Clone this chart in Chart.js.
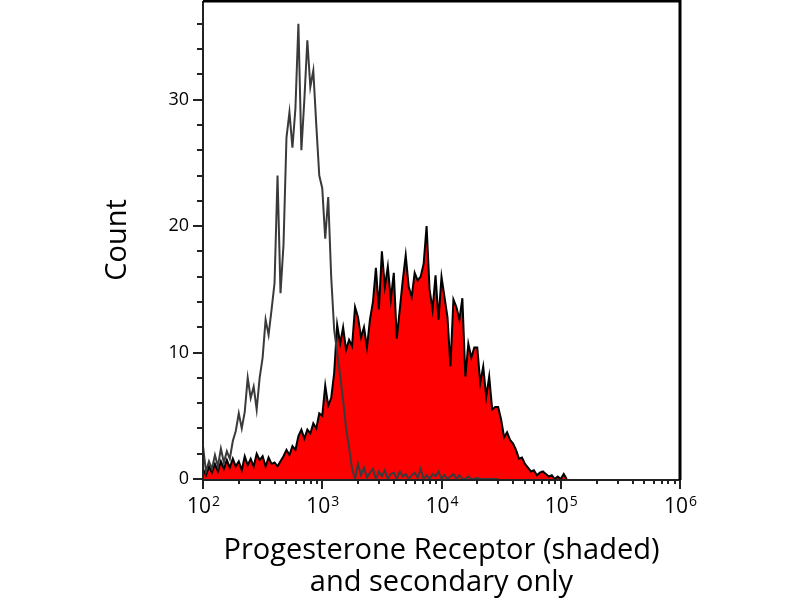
<!DOCTYPE html>
<html>
<head>
<meta charset="utf-8">
<script src="https://cdn.jsdelivr.net/npm/chart.js@4.4.1/dist/chart.umd.min.js"></script>
<style>
  html, body { margin: 0; padding: 0; background: #fff; }
  #grafico { display: block; }
</style>
</head>
<body>
<canvas id="grafico" width="800" height="600"></canvas>
<script>
// canais do histograma: expoente log10 do primeiro canal e largura de cada canal
const primeiroExpoente = 2;
const passoExpoente = 0.025;

// contagens, canal a canal
const contagemSecundario = [
  2.6, 0.6, 1.4, 0.8, 1.9, 1.0, 2.4, 1.3, 2.2, 1.6,
  3.0, 3.8, 5.2, 4.0, 5.3, 8.0, 6.4, 7.3, 5.5, 8.0,
  9.6, 12.6, 11.4, 13.4, 15.5, 24.0, 14.7, 18.5, 27.0, 29.0,
  26.2, 29.3, 36.0, 26.0, 30.0, 34.7, 31.0, 32.3, 28.0, 24.0,
  23.0, 19.0, 22.3, 16.0, 11.8, 10.0, 8.2, 6.2, 4.0, 2.5,
  0.8, 0.0, 1.2, 0.3, 0.9, 0.1, 0.5, 0.8, 0.0, 0.6,
  0.2, 0.7, 0.0, 0.4, 0.5, 0.0, 0.6, 0.2, 0.4, 0.0,
  0.3, 0.5, 0.1, 0.8, 0.0, 0.3, 0.0, 0.4, 0.2, 0.6,
  0.0, 0.3, 0.0, 0.2, 0.4, 0.0, 0.3, 0.0, 0.0, 0.2,
  0.0, 0.0, 0.1, 0.0, 0.0, 0.0, 0.0, 0.0, 0.0, 0.0
];

const contagemReceptor = [
  0.8, 0.3, 1.0, 0.5, 1.2, 0.6, 1.4, 0.8, 1.5, 0.9,
  1.6, 1.0, 1.4, 0.7, 1.8, 1.1, 1.6, 1.0, 2.0, 1.5,
  1.8, 1.0, 1.7, 1.2, 1.3, 1.0, 1.4, 1.8, 2.3, 1.9,
  2.6, 2.3, 3.4, 3.9, 3.2, 3.9, 3.6, 4.4, 4.0, 5.2,
  5.0, 7.4, 5.8, 6.4, 8.4, 12.2, 10.7, 12.0, 10.2, 11.0,
  10.5, 13.6, 12.8, 11.2, 12.0, 10.4, 12.6, 14.0, 16.7, 13.4,
  18.0, 15.2, 16.8, 14.2, 16.3, 11.1, 13.4, 15.7, 17.7, 15.2,
  14.4, 16.3, 15.7, 16.0, 17.0, 20.0, 15.0, 13.4, 16.1, 12.6,
  16.0, 14.4, 12.8, 8.9, 14.2, 13.6, 12.6, 14.3, 8.1, 10.7,
  9.6, 10.4, 10.4, 7.6, 8.9, 6.5, 8.1, 5.5, 5.7, 5.7,
  4.7, 3.3, 3.7, 3.1, 2.8, 2.3, 1.6, 1.7, 1.2, 0.9,
  0.6, 0.7, 0.3, 0.5, 0.6, 0.4, 0.2, 0.3, 0.0, 0.2,
  0.0, 0.4, 0.0
];

const expoentesEixoX = [2, 3, 4, 5, 6];
const ticksEixoY = [0, 10, 20, 30];
const maximoEixoY = 37.8;
const passoMarcaMenorY = 2;
const tituloEixoX = ['Progesterone Receptor (shaded)', 'and secondary only'];
const tituloEixoY = 'Count';

const fonte = '"Open Sans", "DejaVu Sans", sans-serif';

function paraPontos(contagens) {
  return contagens.map((y, i) => ({ x: Math.pow(10, primeiroExpoente + i * passoExpoente), y: y }));
}

const molduraEMarcas = {
  id: 'molduraEMarcas',
  afterDraw(chart) {
    const ctx = chart.ctx;
    const area = chart.chartArea;
    const x = chart.scales.x;
    const y = chart.scales.y;
    ctx.save();

    // marcas do eixo y
    ctx.strokeStyle = '#222';
    ctx.lineWidth = 2;
    for (let v = 0; v <= maximoEixoY; v += passoMarcaMenorY) {
      const py = Math.round(y.getPixelForValue(v));
      const comprimento = ticksEixoY.includes(v) ? 10 : 6;
      ctx.beginPath();
      ctx.moveTo(area.left - comprimento, py);
      ctx.lineTo(area.left, py);
      ctx.stroke();
    }

    // marcas do eixo x (décadas e subdivisões)
    expoentesEixoX.forEach(function(e, idx) {
      const base = Math.pow(10, e);
      const ultimo = idx === expoentesEixoX.length - 1;
      for (let k = 1; k <= (ultimo ? 1 : 9); k++) {
        const px = Math.round(x.getPixelForValue(k * base));
        const comprimento = k === 1 ? 10 : 5;
        ctx.beginPath();
        ctx.moveTo(px, area.bottom);
        ctx.lineTo(px, area.bottom + comprimento);
        ctx.stroke();
      }
    });

    // eixos
    ctx.beginPath();
    ctx.moveTo(area.left, area.top);
    ctx.lineTo(area.left, area.bottom + 1);
    ctx.lineTo(area.right, area.bottom + 1);
    ctx.stroke();

    // moldura superior e direita
    ctx.strokeStyle = '#000';
    ctx.lineWidth = 3;
    ctx.beginPath();
    ctx.moveTo(area.left, area.top);
    ctx.lineTo(area.right, area.top);
    ctx.lineTo(area.right, area.bottom + 1);
    ctx.stroke();

    // rótulos 10^n
    ctx.fillStyle = '#000';
    ctx.textBaseline = 'alphabetic';
    ctx.textAlign = 'left';
    expoentesEixoX.forEach(function(e) {
      const px = x.getPixelForValue(Math.pow(10, e));
      ctx.font = '21px ' + fonte;
      const largBase = ctx.measureText('10').width;
      ctx.font = '14px ' + fonte;
      const largExp = ctx.measureText(String(e)).width;
      const inicio = px - (largBase + largExp) / 2;
      ctx.font = '21px ' + fonte;
      ctx.fillText('10', inicio, area.bottom + 34);
      ctx.font = '14px ' + fonte;
      ctx.fillText(String(e), inicio + largBase + 1, area.bottom + 27);
    });

    ctx.restore();
  }
};

const grafico = new Chart(document.getElementById('grafico').getContext('2d'), {
  type: 'line',
  data: {
    datasets: [{
      label: 'secondary only',
      data: paraPontos(contagemSecundario),
      borderColor: '#3a3a3a',
      borderWidth: 2,
      pointRadius: 0,
      fill: false,
      tension: 0
    }, {
      label: 'Progesterone Receptor',
      data: paraPontos(contagemReceptor),
      borderColor: '#000',
      borderWidth: 2,
      backgroundColor: '#ff0000',
      pointRadius: 0,
      fill: 'origin',
      tension: 0
    }]
  },
  options: {
    responsive: false,
    animation: false,
    devicePixelRatio: 1,
    layout: { padding: { top: 1, right: 120, left: 0, bottom: 0 } },
    plugins: {
      legend: { display: false },
      tooltip: { enabled: false }
    },
    scales: {
      x: {
        type: 'logarithmic',
        min: Math.pow(10, expoentesEixoX[0]),
        max: Math.pow(10, expoentesEixoX[expoentesEixoX.length - 1]),
        grid: { display: false, drawTicks: false },
        border: { display: false },
        ticks: { display: false },
        afterFit(scale) {
          scale.height = 121;
          scale.paddingLeft = 0;
          scale.paddingRight = 0;
        },
        title: {
          display: true,
          text: tituloEixoX,
          color: '#000',
          font: { family: fonte, size: 29, lineHeight: 1.12 },
          padding: { top: 0, bottom: 1 }
        }
      },
      y: {
        min: 0,
        max: maximoEixoY,
        grid: { display: false, drawTicks: false },
        border: { display: false },
        afterBuildTicks(scale) { scale.ticks = ticksEixoY.map(v => ({ value: v })); },
        afterFit(scale) {
          scale.width = 203;
          scale.paddingTop = 0;
          scale.paddingBottom = 0;
        },
        ticks: {
          color: '#000',
          padding: 14,
          font: { family: fonte, size: 18 }
        },
        title: {
          display: true,
          text: tituloEixoY,
          color: '#000',
          font: { family: fonte, size: 29 },
          padding: { top: 100, bottom: 0 }
        }
      }
    }
  },
  plugins: [molduraEMarcas]
});
</script>
</body>
</html>
